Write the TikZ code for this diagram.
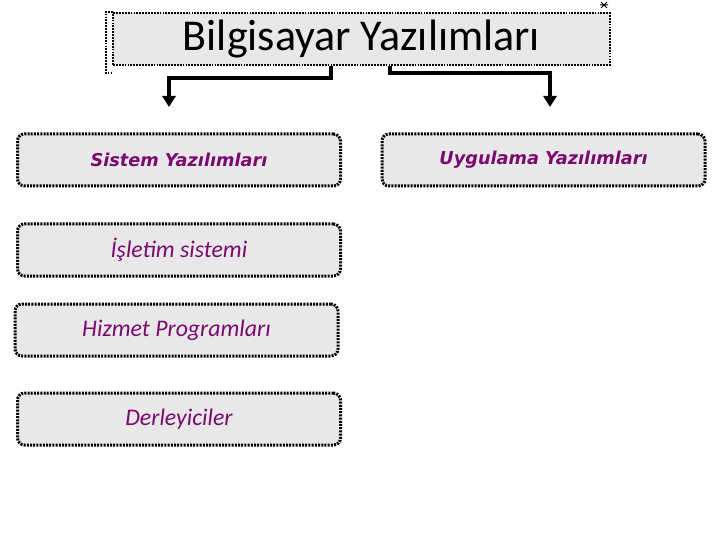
\documentclass[tikz,border=0pt]{standalone}
\usepackage{fontspec}
\setmainfont{Carlito}
\newfontfamily\verd{DejaVu Sans}
\usetikzlibrary{arrows.meta}
\definecolor{boxgray}{HTML}{E8E8E8}
\definecolor{txtpurple}{HTML}{7A0A6E}
\tikzset{
  dotbox/.style={draw=black, fill=boxgray, line width=3pt, dash pattern=on 2pt off 1.2pt,
    rounded corners=7pt, minimum width=323pt, minimum height=52pt, inner sep=0pt},
  headtxt/.style={font=\verd\bfseries\itshape\fontsize{17.7}{20}\selectfont, text=txtpurple},
  subtxt/.style={font=\itshape\fontsize{23.8}{26}\selectfont, text=txtpurple},
  conn/.style={line width=4pt, -{Triangle[width=13pt,length=11pt]}}
}
\begin{document}
\begin{tikzpicture}[x=1pt,y=-1pt]
\useasboundingbox (0,0) rectangle (720,540);
% title box
\node[draw=black, fill=boxgray, line width=2.6pt, dash pattern=on 1.8pt off 1.1pt,
  minimum width=497pt, minimum height=52pt, inner sep=0pt,
  font=\fontsize{44}{48}\selectfont] (title) at (361.5,39) {Bilgisayar Yazılımları};
\draw[line width=2.6pt, dash pattern=on 1.8pt off 1.1pt] (113,12) -- (106,12) -- (106,73) -- (113,73);
\draw[line width=1pt] (601,2) -- (607,8) (607,2) -- (601,8) (600,5) -- (608,5);
% boxes
\node[dotbox, headtxt] (sys) at (179,160) {Sistem Yazılımları};
\node[dotbox, headtxt] (app) at (543.5,160) {Uygulama Yazılımları};
\node[dotbox, subtxt] (os) at (179,250) {İşletim sistemi};
\node[dotbox, subtxt] (util) at (176.5,330) {Hizmet Programları};
\node[dotbox, subtxt] (comp) at (179,419) {Derleyiciler};
% connectors
\coordinate (tipL) at (169,107);
\coordinate (tipR) at (550,107);
\draw[conn] ([xshift=-30.5pt]title.south) -- ++(0,12) -| (tipL);
\draw[conn] ([xshift=28.5pt]title.south) -- ++(0,7) -| (tipR);
\end{tikzpicture}
\end{document}
